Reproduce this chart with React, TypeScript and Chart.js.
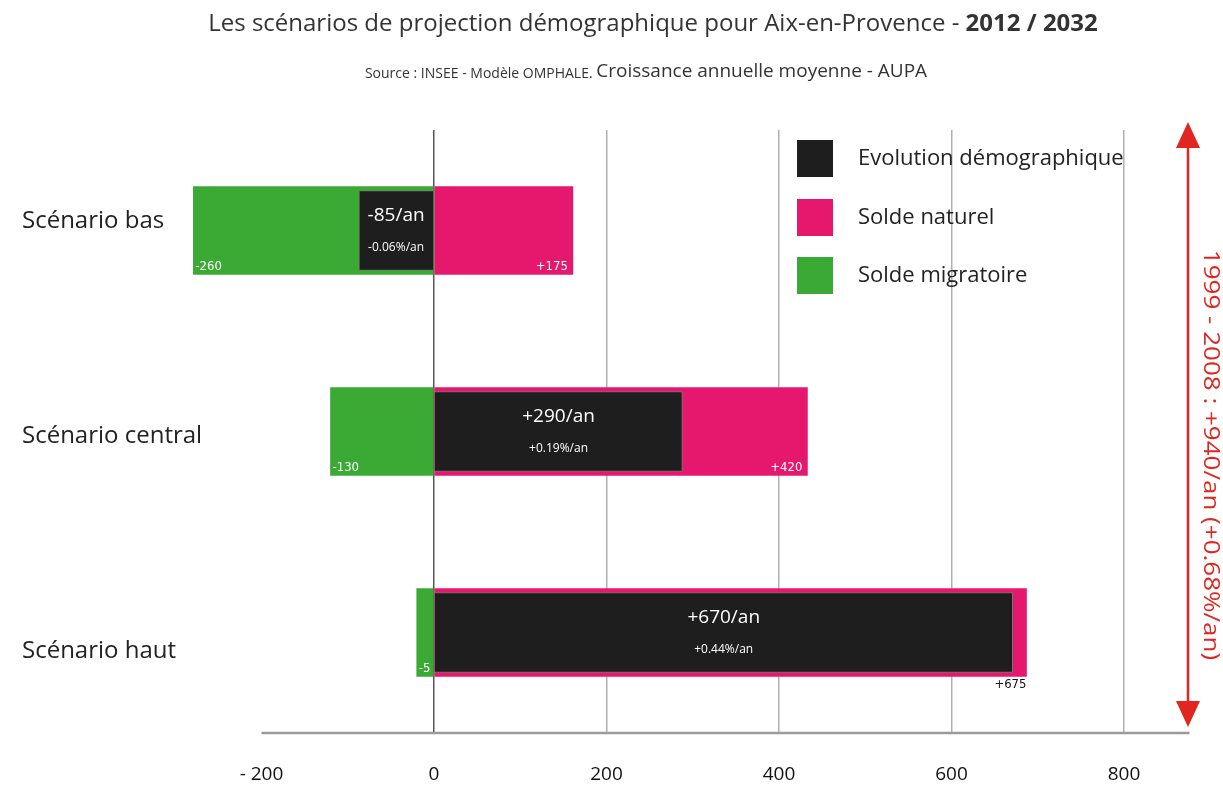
import React, { useEffect, useRef } from "react";
import { Chart, registerables } from "chart.js";

Chart.register(...registerables);

const categories = ["Scénario bas", "Scénario central", "Scénario haut"];
const evolution = [-87, 288, 671];
const soldeNaturel = [161, 433, 687];
const soldeMigratoire = [-279, -120, -20];
const evolutionLabels = ["-85/an", "+290/an", "+670/an"];
const evolutionRates = ["-0.06%/an", "+0.19%/an", "+0.44%/an"];
const naturelLabels = ["+175", "+420", "+675"];
const migratoireLabels = ["-260", "-130", "-5"];
const xTicks = [-200, 0, 200, 400, 600, 800];
const seriesNames = ["Evolution démographique", "Solde naturel", "Solde migratoire"];
const titleRegular = "Les scénarios de projection démographique pour Aix-en-Provence - ";
const titleBold = "2012 / 2032";
const sourceSmall = "Source : INSEE - Modèle OMPHALE. ";
const sourceLarge = "Croissance annuelle moyenne - AUPA";
const sideNote = "1999 - 2008 : +940/an (+0.68%/an)";

const BLACK = "#1e1e1e";
const PINK = "#e5186e";
const GREEN = "#3aaa35";
const RED = "#e0261f";
const FONT = "'Open Sans', 'Noto Sans', sans-serif";
const COND = "'DejaVu Sans Condensed', 'Liberation Sans Narrow', 'Open Sans', sans-serif";

const decor = {
  id: "decor",
  afterDatasetsDraw(chart: any) {
    const ctx = chart.ctx;
    const area = chart.chartArea;
    const xs = chart.scales.x;
    ctx.save();
    // bottom axis line
    ctx.strokeStyle = "#9a9a9a";
    ctx.lineWidth = 2.5;
    ctx.beginPath();
    ctx.moveTo(xs.getPixelForValue(xTicks[0]), area.bottom);
    ctx.lineTo(area.right, area.bottom);
    ctx.stroke();

    // category labels (evenly spaced, slightly looser than bars, as in the source)
    ctx.fillStyle = "#222";
    ctx.font = `24px ${FONT}`;
    ctx.textAlign = "left";
    ctx.textBaseline = "middle";
    for (let i = 0; i < categories.length; i++) {
      ctx.fillText(categories[i], 22, 221 + i * 215);
    }

    // bar labels
    const mBlack = chart.getDatasetMeta(0).data;
    const mPink = chart.getDatasetMeta(1).data;
    const mGreen = chart.getDatasetMeta(2).data;
    for (let i = 0; i < categories.length; i++) {
      const g = mGreen[i];
      const p = mPink[i];
      const b = mBlack[i];
      ctx.fillStyle = "#ffffff";
      ctx.font = `13px ${COND}`;
      ctx.textBaseline = "bottom";
      ctx.textAlign = "left";
      ctx.fillText(migratoireLabels[i], Math.min(g.x, g.base) + 2, g.y + g.height / 2 - 1);
      const covered = Math.abs(p.x - b.x) < 40 && b.x > b.base;
      if (covered) {
        ctx.fillStyle = "#111";
        ctx.textAlign = "right";
        ctx.textBaseline = "top";
        ctx.fillText(naturelLabels[i], p.x, p.y + p.height / 2 + 2);
      } else {
        ctx.textAlign = "right";
        ctx.fillText(naturelLabels[i], p.x - 5, p.y + p.height / 2 - 1);
      }
      const cx = (b.x + b.base) / 2;
      ctx.fillStyle = "#ffffff";
      ctx.textAlign = "center";
      ctx.textBaseline = "middle";
      ctx.font = `19px ${FONT}`;
      ctx.fillText(evolutionLabels[i], cx, b.y - 15);
      ctx.font = `12px ${FONT}`;
      ctx.fillText(evolutionRates[i], cx, b.y + 17);
    }

    // legend
    const colors = chart.data.datasets.map((d: any) => d.backgroundColor);
    const lx = 797;
    const ly = [140, 199, 257];
    for (let i = 0; i < seriesNames.length; i++) {
      ctx.fillStyle = colors[i];
      ctx.fillRect(lx, ly[i], 36, 37);
      ctx.fillStyle = "#222";
      ctx.font = `22px ${FONT}`;
      ctx.textAlign = "left";
      ctx.textBaseline = "middle";
      ctx.fillText(seriesNames[i], 858, ly[i] + 19);
    }

    // red arrow
    const ax = 1188;
    ctx.strokeStyle = RED;
    ctx.fillStyle = RED;
    ctx.lineWidth = 2.5;
    ctx.beginPath();
    ctx.moveTo(ax, 140);
    ctx.lineTo(ax, 710);
    ctx.stroke();
    ctx.beginPath();
    ctx.moveTo(ax, 122);
    ctx.lineTo(ax - 12, 148);
    ctx.lineTo(ax + 12, 148);
    ctx.closePath();
    ctx.fill();
    ctx.beginPath();
    ctx.moveTo(ax, 727);
    ctx.lineTo(ax - 12, 701);
    ctx.lineTo(ax + 12, 701);
    ctx.closePath();
    ctx.fill();
    ctx.save();
    ctx.translate(1210, 455);
    ctx.rotate(Math.PI / 2);
    ctx.scale(1, 0.85);
    ctx.font = `26px ${FONT}`;
    ctx.textAlign = "center";
    ctx.textBaseline = "middle";
    ctx.fillText(sideNote, 0, 0);
    ctx.restore();

    // title
    ctx.fillStyle = "#333";
    ctx.textBaseline = "middle";
    ctx.textAlign = "left";
    ctx.font = `24px ${FONT}`;
    const w1 = ctx.measureText(titleRegular).width;
    ctx.font = `bold 24px ${FONT}`;
    const w2 = ctx.measureText(titleBold).width;
    const tx = 653 - (w1 + w2) / 2;
    ctx.font = `24px ${FONT}`;
    ctx.fillText(titleRegular, tx, 24);
    ctx.font = `bold 24px ${FONT}`;
    ctx.fillText(titleBold, tx + w1, 24);

    ctx.font = `14px ${FONT}`;
    const s1 = ctx.measureText(sourceSmall).width;
    ctx.font = `19px ${FONT}`;
    const s2 = ctx.measureText(sourceLarge).width;
    const sx = 646 - (s1 + s2) / 2;
    ctx.font = `14px ${FONT}`;
    ctx.fillText(sourceSmall, sx, 74);
    ctx.font = `19px ${FONT}`;
    ctx.fillText(sourceLarge, sx + s1, 72);
    ctx.restore();
  },
};

export default function App() {
  const ref = useRef<HTMLCanvasElement | null>(null);
  useEffect(() => {
    if (!ref.current) return;
    const chart = new Chart(ref.current, {
      type: "bar",
      data: {
        labels: categories,
        datasets: [
          {
            label: seriesNames[0],
            data: evolution,
            backgroundColor: BLACK,
            borderColor: "#777",
            borderWidth: 1,
            barThickness: 80,
            grouped: false,
          } as any,
          {
            label: seriesNames[1],
            data: soldeNaturel,
            backgroundColor: PINK,
            barThickness: 88,
            grouped: false,
          },
          {
            label: seriesNames[2],
            data: soldeMigratoire,
            backgroundColor: GREEN,
            barThickness: 88,
            grouped: false,
          },
        ],
      },
      options: {
        indexAxis: "y",
        animation: false,
        responsive: false,
        maintainAspectRatio: false,
        layout: { padding: { left: 22, right: 33.5, top: 130, bottom: 0 } },
        plugins: {
          legend: { display: false },
          title: { display: false },
          tooltip: { enabled: false },
        },
        scales: {
          x: {
            type: "linear",
            min: -280,
            max: 876,
            afterBuildTicks: (scale: any) => {
              scale.ticks = xTicks.map((v) => ({ value: v }));
            },
            afterFit: (scale: any) => {
              scale.height = 52;
            },
            grid: {
              drawTicks: false,
              lineWidth: 1.5,
              color: (c: any) =>
                c.tick && c.tick.value === 0
                  ? "#555"
                  : c.tick && c.tick.value === xTicks[0]
                  ? "rgba(0,0,0,0)"
                  : "#b0b0b0",
            },
            border: { display: false },
            ticks: {
              padding: 30,
              color: "#111",
              font: { family: FONT, size: 19 },
              callback: (v: any) => (v < 0 ? "- " + Math.abs(v) : String(v)),
            },
          },
          y: {
            type: "category",
            grid: { display: false },
            border: { display: false },
            afterFit: (scale: any) => {
              scale.width = 170.5;
            },
            ticks: { display: false },
          },
        },
      },
      plugins: [decor],
    } as any);
    return () => chart.destroy();
  }, []);
  return (
    <div style={{ position: "absolute", left: 0, top: 0, width: 1223, height: 785, background: "#fff" }}>
      <canvas ref={ref} width={1223} height={785} style={{ width: 1223, height: 785, display: "block" }} />
    </div>
  );
}
